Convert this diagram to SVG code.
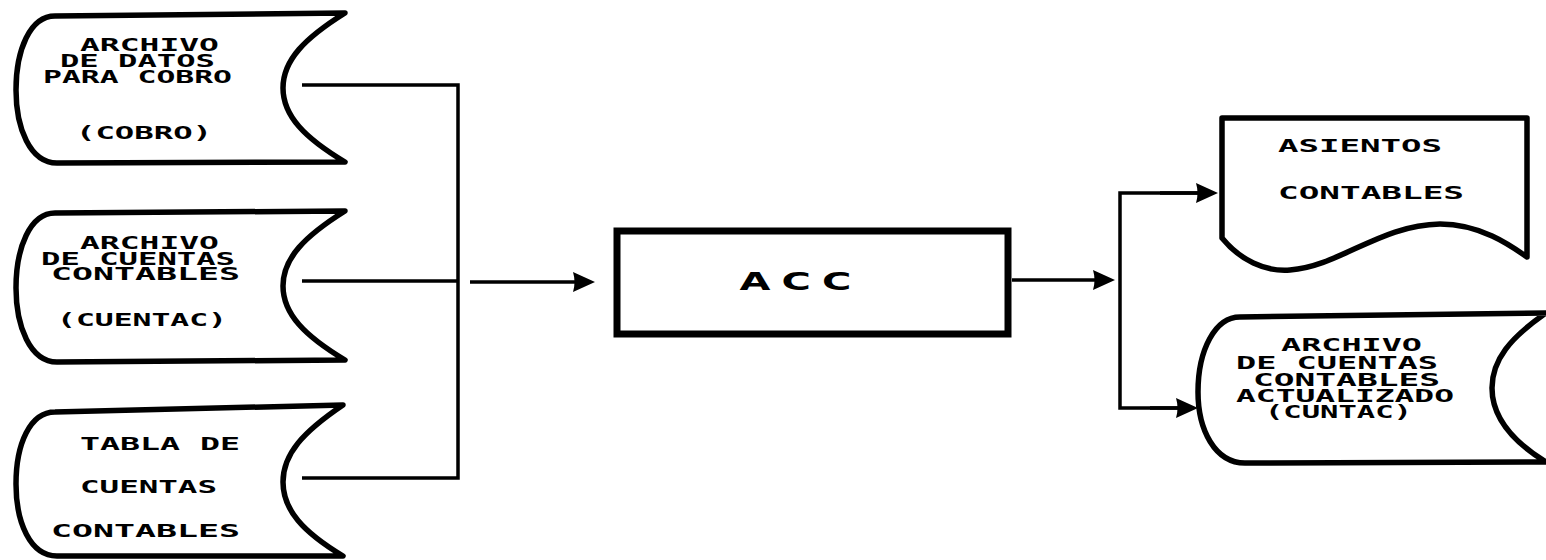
<svg xmlns="http://www.w3.org/2000/svg" width="1546" height="560" viewBox="0 0 1546 560">
<style>
.shape{fill:#fff;stroke:#000;stroke-width:5.5;stroke-linejoin:round}
.t{font-family:"DejaVu Sans Mono","Liberation Mono",monospace;font-weight:bold;font-size:17px;fill:#000}
.c{fill:none;stroke:#000;stroke-width:3.5}
.acc{font-family:"DejaVu Sans","Liberation Sans",sans-serif;font-weight:bold;font-size:25px;fill:#000}
</style>
<defs>
<marker id="ah" markerUnits="userSpaceOnUse" markerWidth="24" markerHeight="22" refX="15" refY="11" orient="auto">
<path d="M0,1 L22,11 L0,21 Q3,11 0,1 Z" fill="#000"/>
</marker>
</defs>
<rect width="1546" height="560" fill="#fff"/>
<g id="connectors">
<path class="c" d="M302,85 H458 V478 H302"/>
<path class="c" d="M302,281 H458"/>
<path class="c" d="M470,282 H588" marker-end="url(#ah)"/>
<path class="c" d="M1012,280 H1108" marker-end="url(#ah)"/>
<path class="c" d="M1212,193 H1120 V408 H1192"/>
<path class="c" d="M1160,193 H1211" marker-end="url(#ah)"/>
<path class="c" d="M1150,408 H1191" marker-end="url(#ah)"/>
</g>
<g id="cobro">
<path class="shape" d="M55,16 L345,13 C305,38 283,60 283,88 C283,116 305,138 345,162 L57,163 C30,163 16,128 16,90 C16,50 30,16 55,16 Z"/>
<text class="t" x="80" y="51" textLength="139" lengthAdjust="spacingAndGlyphs">ARCHIVO</text>
<text class="t" x="60" y="67" textLength="155" lengthAdjust="spacingAndGlyphs">DE DATOS</text>
<text class="t" x="43" y="83" textLength="189" lengthAdjust="spacingAndGlyphs">PARA COBRO</text>
<text class="t" x="76" y="139" textLength="136" lengthAdjust="spacingAndGlyphs">(COBRO)</text>
</g>
<g id="cuentac">
<path class="shape" d="M55,213 L345,211 C305,236 283,258 283,286 C283,314 305,336 345,360 L57,362 C30,362 16,326 16,288 C16,248 30,213 55,213 Z"/>
<text class="t" x="80" y="249" textLength="139" lengthAdjust="spacingAndGlyphs">ARCHIVO</text>
<text class="t" x="41" y="265" textLength="194" lengthAdjust="spacingAndGlyphs">DE CUENTAS</text>
<text class="t" x="51" y="280" textLength="189" lengthAdjust="spacingAndGlyphs">CONTABLES</text>
<text class="t" x="57" y="326" textLength="170" lengthAdjust="spacingAndGlyphs">(CUENTAC)</text>
</g>
<g id="tabla">
<path class="shape" d="M55,412 L343,405 C303,432 283,454 283,482 C283,510 303,532 343,556 L57,556 C30,556 16,522 16,484 C16,444 30,412 55,412 Z"/>
<text class="t" x="80" y="450" textLength="160" lengthAdjust="spacingAndGlyphs">TABLA DE</text>
<text class="t" x="80" y="493" textLength="137" lengthAdjust="spacingAndGlyphs">CUENTAS</text>
<text class="t" x="51" y="537" textLength="189" lengthAdjust="spacingAndGlyphs">CONTABLES</text>
</g>
<g id="acc">
<rect x="617" y="231" width="391" height="103" fill="#fff" stroke="#000" stroke-width="7"/>
<text class="acc" transform="translate(801,290) scale(1.6,1)" text-anchor="middle" letter-spacing="7">ACC</text>
</g>
<g id="asientos">
<path class="shape" d="M1222,118 L1527,118 L1527,257 C1510,245 1480,224 1440,224 C1380,225 1340,266 1290,270 C1265,272 1240,260 1222,238 Z"/>
<text class="t" x="1278" y="152" textLength="164" lengthAdjust="spacingAndGlyphs">ASIENTOS</text>
<text class="t" x="1278" y="199" textLength="186" lengthAdjust="spacingAndGlyphs">CONTABLES</text>
</g>
<g id="cuntac">
<path class="shape" d="M1240,317 L1546,313 C1510,338 1492,360 1492,388 C1492,416 1510,440 1546,462 L1245,463 C1215,463 1198,430 1198,392 C1198,350 1215,317 1240,317 Z"/>
<text class="t" x="1281" y="351" textLength="141" lengthAdjust="spacingAndGlyphs">ARCHIVO</text>
<text class="t" x="1236" y="369" textLength="202" lengthAdjust="spacingAndGlyphs">DE CUENTAS</text>
<text class="t" x="1253" y="386" textLength="187" lengthAdjust="spacingAndGlyphs">CONTABLES</text>
<text class="t" x="1236" y="402" textLength="218" lengthAdjust="spacingAndGlyphs">ACTUALIZADO</text>
<text class="t" x="1265" y="418" textLength="147" lengthAdjust="spacingAndGlyphs">(CUNTAC)</text>
</g>
</svg>
